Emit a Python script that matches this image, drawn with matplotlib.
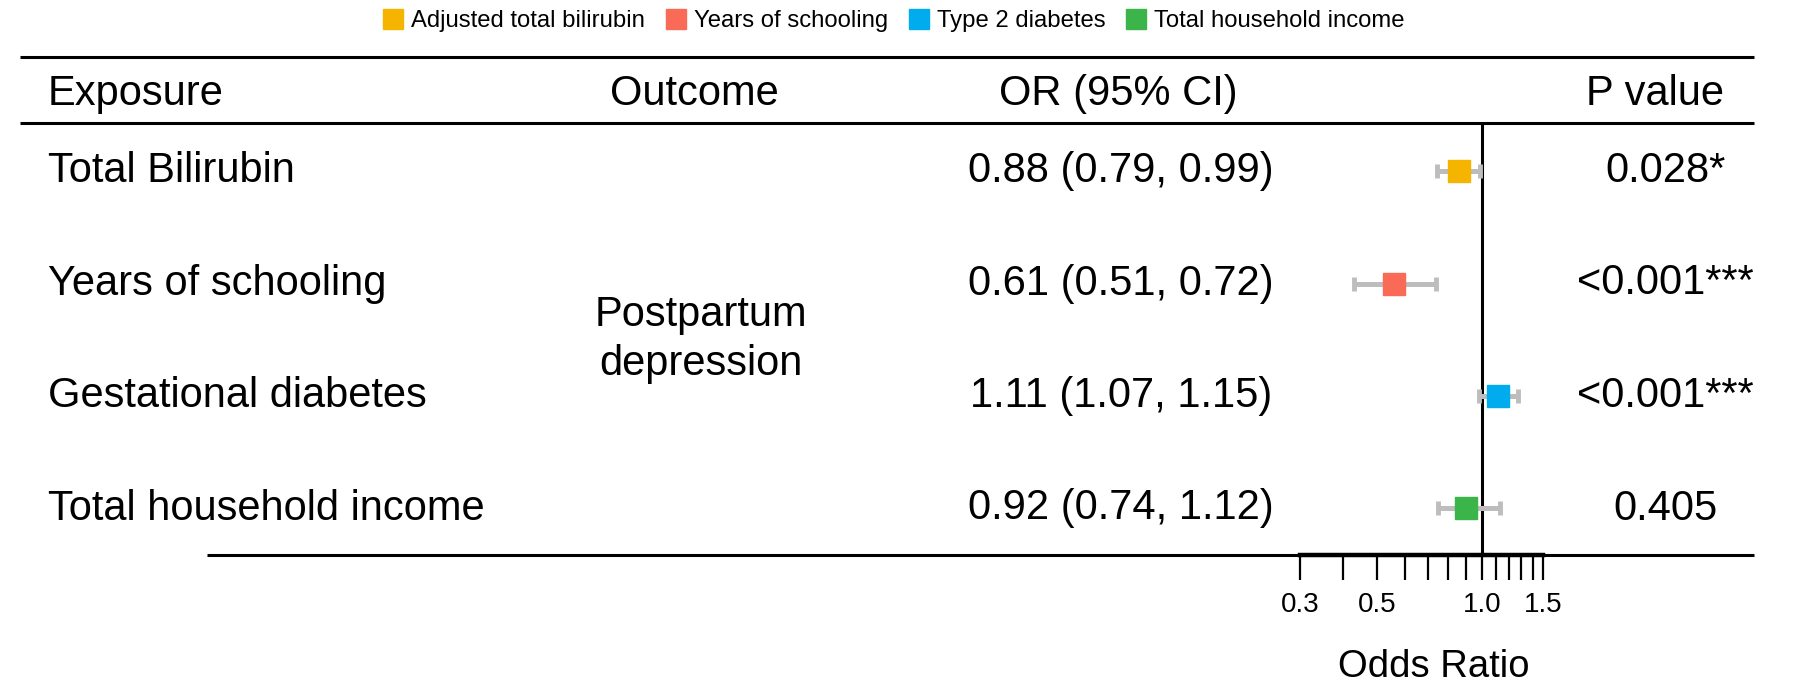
import matplotlib
matplotlib.use('Agg')
import matplotlib.pyplot as plt
from matplotlib.lines import Line2D

plt.rcParams['font.family'] = ['Liberation Sans', 'DejaVu Sans']

## table content
EXPOSURES = ['Total Bilirubin', 'Years of schooling', 'Gestational diabetes', 'Total household income']
OUTCOME = 'Postpartum\ndepression'
OR_TEXT = ['0.88 (0.79, 0.99)', '0.61 (0.51, 0.72)', '1.11 (1.07, 1.15)', '0.92 (0.74, 1.12)']
P_TEXT = ['0.028*', '<0.001***', '<0.001***', '0.405']
HEADERS = ['Exposure', 'Outcome', 'OR (95% CI)', 'P value']

## marker positions as drawn on the odds ratio axis
OR_EST = [0.86, 0.56, 1.11, 0.90]
CI_LOW = [0.745, 0.43, 0.98, 0.75]
CI_HIGH = [0.99, 0.74, 1.27, 1.13]

LEGEND_LABELS = ['Adjusted total bilirubin', 'Years of schooling', 'Type 2 diabetes', 'Total household income']
COLORS = ['#F5B400', '#F96A57', '#00ABEE', '#3BB44A']

XTICKS = [0.3, 0.4, 0.5, 0.6, 0.7, 0.8, 0.9, 1.0, 1.1, 1.2, 1.3, 1.4, 1.5]
XTICKLABELS = ['0.3', '', '0.5', '', '', '', '', '1.0', '', '', '', '', '1.5']

W, H = 1801, 690
FS = 30

fig = plt.figure(figsize=(W/100, H/100), dpi=100)

# background axes in pixel units for the table part
bg = fig.add_axes([0, 0, 1, 1])
bg.set_xlim(0, W); bg.set_ylim(H, 0)
bg.axis('off')

top_y, head_y, bot_y = 57, 123, 555
line_end = 1754
row0, dy = 171, 112.5
rows_px = [row0 + i*dy for i in range(len(EXPOSURES))]

bg.plot([20, line_end], [top_y, top_y], color='black', lw=2.2, solid_capstyle='butt')
bg.plot([20, line_end], [head_y, head_y], color='black', lw=2.2, solid_capstyle='butt')
bg.plot([207, line_end], [bot_y, bot_y], color='black', lw=2.2, solid_capstyle='butt')

hx = [(48, 'left'), (694, 'center'), (1118, 'center'), (1655, 'center')]
for (x, ha), h in zip(hx, HEADERS):
    bg.text(x, 94, h, fontsize=FS, ha=ha, va='center')

for y, e, o, p in zip(rows_px, EXPOSURES, OR_TEXT, P_TEXT):
    bg.text(48, y, e, fontsize=FS, ha='left', va='center')
    bg.text(1121, y, o, fontsize=FS, ha='center', va='center')
    bg.text(1665, y, p, fontsize=FS, ha='center', va='center')

bg.text(701, (rows_px[1] + rows_px[2])/2, OUTCOME, fontsize=FS, ha='center', va='center',
        linespacing=1.3)

bg.text(1434, 667, 'Odds Ratio', fontsize=27.5, ha='center', va='center')

# forest plot axes
x0, x1 = 1300, 1543
ax = fig.add_axes([x0/W, 1 - bot_y/H, (x1 - x0)/W, (bot_y - head_y)/H])
ax.set_xscale('log')
ax.set_xlim(0.3, 1.5)
ax.set_ylim((bot_y - row0)/dy, (head_y - row0)/dy)
ax.patch.set_alpha(0)
for s in ['top', 'left', 'right']:
    ax.spines[s].set_visible(False)
ax.spines['bottom'].set_linewidth(3.2)
ax.set_yticks([])
ax.minorticks_off()
ax.set_xticks(XTICKS)
ax.set_xticklabels(XTICKLABELS)
ax.tick_params(axis='x', direction='out', length=18, width=1.6, pad=9, labelsize=20)
ax.tick_params(axis='x', which='minor', length=0)

ax.axvline(1.0, color='black', lw=2.2)

for i in range(len(OR_EST)):
    err = [[OR_EST[i] - CI_LOW[i]], [CI_HIGH[i] - OR_EST[i]]]
    ax.errorbar([OR_EST[i]], [i], xerr=err, fmt='none', ecolor='#BDBDBD', elinewidth=3.6,
                capsize=5, capthick=3.5, zorder=2)
    ax.plot([OR_EST[i]], [i], marker='s', markersize=16, color=COLORS[i], zorder=3)

handles = [Line2D([], [], marker='s', ls='none', markersize=14, color=c) for c in COLORS]
fig.legend(handles, LEGEND_LABELS, loc='center', bbox_to_anchor=(894/W, 1 - 21/H), ncol=4,
           frameon=False, fontsize=17.2, handlelength=0.8, handletextpad=0.35, columnspacing=0.9)

fig.savefig('out.png', dpi=100)
